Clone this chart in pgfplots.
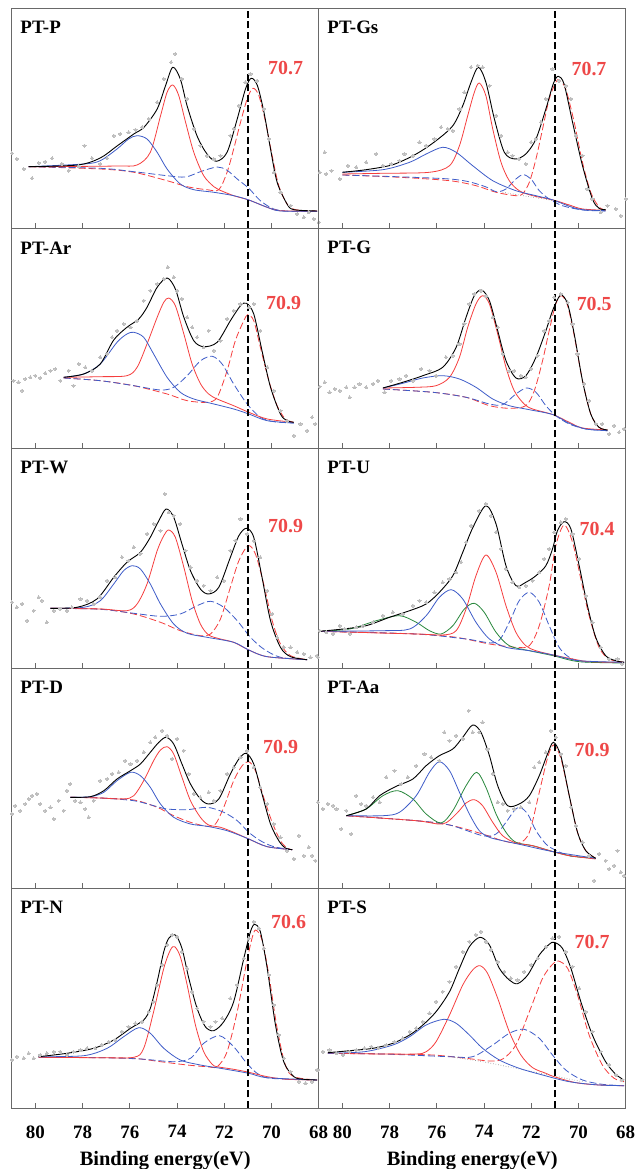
\documentclass[border=0pt]{standalone}
\usepackage{fontspec}
\setmainfont{Liberation Serif}
\usepackage{pgfplots}
\pgfplotsset{compat=1.18}
\definecolor{cred}{RGB}{245,62,62}
\definecolor{cblue}{RGB}{62,92,200}
\definecolor{cgreen}{RGB}{40,135,60}
\definecolor{cdot}{RGB}{190,190,190}
\definecolor{clbl}{RGB}{238,72,72}
\definecolor{cframe}{RGB}{105,105,105}
\pgfplotsset{
 pnl/.style={scale only axis, width=307bp, height=220bp, xmin=68, xmax=81, ymin=0, ymax=220,
   x dir=reverse, xtick={68,70,...,80}, xticklabels={}, ytick=\empty, xtick pos=left,
   tick align=inside, major tick length=5bp, axis line style={cframe, line width=0.9bp},
   every tick/.style={cframe, line width=0.9bp}, clip=false, anchor=south west},
 bottomrow/.style={xticklabels={68,70,72,74,76,78,80},
   xticklabel style={font=\fontsize{19}{20}\selectfont\bfseries, yshift=-4bp},
   xticklabel shift=10bp,
   xlabel={Binding energy(eV)},
   xlabel style={font=\fontsize{20.5}{22}\selectfont\bfseries, at={(axis description cs:0.5,0)}, anchor=base, yshift=-57bp}},
 env/.style={black, line width=0.9bp, smooth, no markers},
 rs/.style={cred, line width=0.8bp, smooth, no markers},
 rd/.style={cred, line width=0.8bp, smooth, no markers, dash pattern=on 7bp off 3bp},
 bs/.style={cblue, line width=0.8bp, smooth, no markers},
 bd/.style={cblue, line width=0.8bp, smooth, no markers, dash pattern=on 7bp off 3bp},
 gs/.style={cgreen, line width=0.8bp, smooth, no markers},
 bg/.style={gray, line width=0.6bp, dotted, smooth, no markers},
 dots/.style={only marks, color=cdot, mark=*, mark size=1.6bp, mark options={fill=cdot, draw=cdot, line width=0pt}},
}
\newcommand{\refline}{\draw[black, line width=2.5bp, dash pattern=on 7bp off 3.5bp] (axis cs:71,0) -- (axis cs:71,220);}
\newcommand{\pname}[1]{\node[anchor=west, inner sep=0pt, font=\fontsize{19}{21}\selectfont\bfseries] at (rel axis cs:0.028,0.91) {#1};}
\newcommand{\pval}[3]{\node[anchor=west, inner sep=0pt, text=clbl, font=\fontsize{20}{22}\selectfont\bfseries] at (axis cs:#1,#2) {#3};}
\begin{document}
\begin{tikzpicture}
\useasboundingbox (0,0) rectangle (635bp,1169bp);
% ---------------- PT-P
\begin{axis}[pnl, at={(11.7bp,941bp)}]
\addplot[dots] coordinates {(80.99,74.7)(80.78,69)(80.49,59)(80.14,49.7)(79.86,65)(79.58,66.3)(79.29,69.7)(78.87,64)(78.59,57.3)(78.16,61.7)(77.92,82.3)(77.6,69.7)(77.25,64)(76.96,69.7)(76.68,92.3)(76.4,94)(76.05,95.7)(75.76,98.3)(75.48,100.7)(75.2,109)(74.84,125.7)(74.56,149)(74.25,165.7)(74.07,174)(73.79,149)(73.57,129)(73.29,99)(73.01,82.3)(72.73,72.3)(72.44,69)(72.16,72.3)(71.74,92.3)(71.6,99)(71.38,122.3)(71.1,145.7)(70.89,154)(70.61,147.3)(70.32,119)(70.11,89)(69.9,55.7)(69.62,35.7)(69.19,22.3)(68.91,14)(68.63,10.7)(68.42,15.7)(68.21,9)(68.0,5.7)};
\addplot[rd] coordinates {(80.28,61.3)(77.25,59)(75.83,55.7)(74.42,47.3)(73.57,41.3)(72.73,38.3)(72.23,38.3)(71.88,55.7)(71.6,79)(71.31,105.7)(71.03,129)(70.79,139.7)(70.54,132.7)(70.25,106)(69.97,72.3)(69.69,42.3)(69.34,24)(68.98,18.3)(68.07,17)};
\addplot[bd] coordinates {(80.28,61.3)(77.25,59.7)(75.83,56.3)(74.42,52.3)(73.64,51)(73.01,56.3)(72.3,61)(71.88,57.7)(71.45,49)(70.96,39.7)(70.47,27.3)(69.9,19)(69.2,16.7)(68.07,16.7)};
\addplot[rs] coordinates {(80.28,61.3)(78.5,61.5)(76.5,62)(75.69,63)(75.13,75.7)(74.70,112)(74.42,135.7)(74.18,143)(73.93,132.7)(73.64,106)(73.29,75.7)(72.87,52.3)(72.44,41.3)(72.23,38.3)(71.6,32.3)(70.96,28)(70.18,20.7)(69.62,17.3)(68.07,16.7)};
\addplot[bs] coordinates {(80.28,61.3)(77.95,64)(77.25,67.3)(76.54,79)(76.05,89)(75.69,92.3)(75.27,89)(74.84,75.7)(74.42,59)(73.86,44)(73.29,38.3)(72.44,35.7)(71.6,32.3)(70.96,28)(70.18,20.7)(69.62,17)(68.07,16.7)};
\addplot[env] coordinates {(80.28,61.3)(78.2,63)(77.25,70)(76.54,82)(75.83,94)(75.4,100.7)(74.84,119)(74.49,142)(74.18,160.7)(73.86,149)(73.57,122)(73.15,92)(72.73,74)(72.33,66.7)(71.88,75.7)(71.45,109)(71.1,139)(70.86,149.7)(70.6,142.7)(70.32,116)(70.04,79)(69.76,45.7)(69.34,24)(69.05,18.3)(68.07,17)};
\refline \pname{PT-P} \pval{70.15}{160}{70.7}
\end{axis}
% ---------------- PT-Gs
\begin{axis}[pnl, at={(318.7bp,941bp)}]
\addplot[dots] coordinates {(80.96,55.7)(80.68,54)(80.46,57.3)(80.75,75.7)(80.11,49)(79.76,62.3)(79.41,60.7)(78.99,65.7)(78.56,74)(78.28,62.3)(77.93,64)(77.58,67.3)(77.37,74)(77.01,72.3)(76.73,85.7)(76.45,82.3)(76.1,89)(75.82,100.7)(75.54,99)(75.32,97.3)(75.04,119)(74.83,135.7)(74.55,160.7)(74.27,162.3)(74.06,160.7)(73.77,142.3)(73.49,112.3)(73.28,92.3)(73.0,75.7)(72.79,72.3)(72.51,69)(72.23,64)(72.01,85.7)(71.8,89)(71.59,105.7)(71.38,129)(71.1,159)(70.82,147.3)(70.54,142.3)(70.32,129)(70.11,92.3)(69.83,72.3)(69.62,39)(69.41,29)(69.06,15.7)(68.77,22.3)(68.42,19)(68.21,12.3)(68.0,29)};
\addplot[bg] coordinates {(73.21,35.7)(71.94,30.7)(71.07,27.3)(69.83,19)(68.85,17)};
\addplot[rd] coordinates {(80.0,53)(77.58,50.7)(75.46,47.3)(74.34,42.3)(73.49,35.7)(72.65,32.3)(72.37,34)(72.08,45.7)(71.8,69)(71.52,99)(71.24,129)(70.96,145.7)(70.82,148)(70.54,139)(70.18,105.7)(69.83,65.7)(69.48,35.7)(69.13,21)(68.85,18)};
\addplot[bd] coordinates {(80.0,53)(75.46,49)(74.06,42.3)(73.49,36.3)(73.07,39)(72.65,49)(72.34,53.3)(72.01,49)(71.66,37.3)(71.24,29)(70.68,22.3)(69.83,18)(68.85,17)};
\addplot[rs] coordinates {(80.0,54)(78.28,54.7)(76.31,55.7)(75.46,62.3)(75.04,82.3)(74.69,112.3)(74.41,135.7)(74.2,145)(73.92,132.3)(73.63,99)(73.28,65.7)(72.93,47.3)(72.51,37.3)(71.94,32.3)(71.07,28)(70.39,23)(69.83,19)(68.85,17.7)};
\addplot[bs] coordinates {(80.0,55.7)(78.28,58.3)(77.15,65.7)(76.45,74)(75.75,80.7)(75.18,75.7)(74.48,62.3)(73.63,47.3)(72.65,37.3)(71.8,32.3)(71.07,28)(70.39,21.7)(69.83,18.3)(68.85,17.3)};
\addplot[env] coordinates {(80.0,55.7)(78.99,58.3)(77.86,63.3)(76.87,74)(76.03,87.3)(75.32,102.3)(74.9,122.3)(74.55,145.7)(74.24,160.7)(73.92,145.7)(73.56,109)(73.14,75.7)(72.68,69)(72.23,74)(71.8,89)(71.38,119)(71.07,144)(70.86,151.7)(70.61,144)(70.25,105.7)(69.83,62.3)(69.41,29)(69.13,19.7)(68.85,18.3)};
\refline \pname{PT-Gs} \pval{70.3}{159.3}{70.7}
\end{axis}
% ---------------- PT-Ar
\begin{axis}[pnl, at={(11.7bp,721bp)}]
\addplot[dots] coordinates {(80.92,67.3)(80.71,65.7)(80.56,57.3)(80.42,69)(80.21,70.7)(80,72.3)(79.79,70)(79.58,74.7)(79.36,77.3)(79.15,79)(78.94,67.3)(78.59,77.3)(78.38,62.3)(78.16,84)(77.88,80.7)(77.6,77.3)(77.25,90.7)(76.96,94)(76.75,110.7)(76.54,117.3)(76.26,124)(75.97,120.7)(75.69,127.3)(75.41,147.3)(75.13,157.3)(74.84,164)(74.56,169)(74.39,180.7)(74.14,170.7)(74,157.3)(73.79,149)(73.57,130.7)(73.36,120.7)(73.15,110.7)(72.87,100.7)(72.66,117.3)(72.44,97.3)(72.16,107.3)(71.88,129)(71.6,137.3)(71.31,144)(70.96,140.7)(70.75,144)(70.47,117.3)(70.18,80.7)(69.9,57.3)(69.62,37.3)(69.34,27.3)(69.05,12.3)(68.77,24)(68.49,17.3)(68.28,30.7)(68.14,24)};
\addplot[rd] coordinates {(78.8,70)(77.25,67.3)(75.83,62.3)(74.42,54)(73.57,47.3)(72.73,45.7)(72.3,50.7)(71.88,77.3)(71.53,107.3)(71.17,127.3)(71.0,133.3)(70.75,127.3)(70.47,100.7)(70.11,67.3)(69.76,42.3)(69.41,29)(69.05,25.7)};
\addplot[bd] coordinates {(78.8,70)(77.25,67.3)(75.83,62.3)(74.7,58)(74.14,60.7)(73.57,72.3)(73.0,87.3)(72.51,91.7)(72.09,84)(71.6,64)(71.03,44)(70.47,30.7)(69.9,26.3)(69.05,25)};
\addplot[rs] coordinates {(78.8,70.7)(77.25,71.3)(76.12,72.3)(75.69,80.7)(75.27,104)(74.84,130.7)(74.56,145.7)(74.35,150)(74.07,142.3)(73.71,114)(73.36,84)(73.0,64)(72.66,54)(72.3,49)(71.6,42.3)(70.96,35.7)(70.18,29)(69.05,25.7)};
\addplot[bs] coordinates {(78.8,70.7)(77.95,74)(77.25,84)(76.54,105.7)(76.12,114)(75.83,115.7)(75.41,110.7)(74.99,94)(74.42,70.7)(73.86,55.7)(73.29,49)(72.44,44)(71.6,39)(70.96,34)(70.18,27.3)(69.05,25)};
\addplot[env] coordinates {(78.8,70.7)(77.95,74)(77.25,84)(76.68,108)(76.12,120.7)(75.62,129)(75.27,140.7)(74.84,160.7)(74.42,170)(74.07,159)(73.71,130.7)(73.29,107.3)(72.87,101.3)(72.3,105.7)(71.74,127.3)(71.31,142.3)(71.06,144.7)(70.75,134)(70.4,97.3)(70.04,60.7)(69.62,34)(69.34,27.3)(69.05,25.7)};
\refline \pname{PT-Ar} \pval{70.23}{145}{70.9}
\end{axis}
% ---------------- PT-G
\begin{axis}[pnl, at={(318.7bp,721bp)}]
\addplot[dots] coordinates {(80.96,61.3)(80.75,65.7)(80.54,55.7)(80.32,59)(80.11,57.3)(79.83,60.7)(79.69,50.7)(79.48,60.7)(79.27,64)(78.99,60.7)(78.7,64)(78.49,67.3)(78.21,55.7)(77.93,67.3)(77.58,69)(77.3,72.3)(77.01,67.3)(76.66,79)(76.31,77.3)(76.03,72.3)(75.61,90.7)(75.32,92.3)(75.04,104)(74.83,124)(74.62,144)(74.41,154)(74.13,157.3)(73.92,152.3)(73.63,130.7)(73.42,120.7)(73.21,94)(72.93,77.3)(72.72,77.3)(72.44,72.3)(72.23,70.7)(72.01,79)(71.73,92.3)(71.45,117.3)(71.24,127.3)(71.03,150.7)(70.75,154)(70.46,145.7)(70.25,124)(70.04,94)(69.76,64)(69.55,47.3)(69.27,24)(68.99,24)(68.70,14)(68.49,22.3)(68.28,15.7)(68.07,19)};
\addplot[rd] coordinates {(78.28,59)(76.17,55.7)(74.76,50.7)(73.77,42.3)(72.93,39.7)(72.23,42.3)(71.87,57.3)(71.52,87.3)(71.24,117.3)(70.96,144)(70.72,152.3)(70.46,142.3)(70.18,112.3)(69.83,67.3)(69.48,34)(69.13,20.7)(68.77,18)};
\addplot[bd] coordinates {(78.28,59)(76.17,55.7)(74.76,50.7)(73.77,44)(73.21,43.3)(72.65,54)(72.2,60)(71.8,55.7)(71.38,42.3)(70.96,32.3)(70.39,24)(69.69,19)(68.77,17.3)};
\addplot[rs] coordinates {(78.28,60)(76.87,60.7)(76.03,62.3)(75.46,70.7)(75.04,90.7)(74.69,120.7)(74.34,144)(74.06,152.3)(73.77,144)(73.42,114)(73.07,80.7)(72.72,57.3)(72.3,44)(71.94,39)(71.07,33.3)(70.39,25.7)(69.83,20)(68.77,18)};
\addplot[bs] coordinates {(78.28,60)(77.44,64.7)(76.59,70)(75.75,72.3)(75.04,69)(74.34,60.7)(73.63,49)(72.93,42.3)(72.08,38.3)(71.07,33.3)(70.39,24.7)(69.69,19)(68.77,17.3)};
\addplot[env] coordinates {(78.28,60)(77.44,65.7)(76.59,72.3)(75.75,80.7)(75.18,100.7)(74.76,130.7)(74.41,152.3)(74.1,158)(73.77,147.3)(73.42,117.3)(73.07,87.3)(72.65,70)(72.23,72.3)(71.8,90.7)(71.38,117.3)(71.07,139)(70.75,153)(70.46,144)(70.18,114)(69.83,67.3)(69.48,34)(69.13,20.7)(68.77,18)};
\refline \pname{PT-G} \pval{70.08}{144}{70.5}
\end{axis}
% ---------------- PT-W
\begin{axis}[pnl, at={(11.7bp,501bp)}]
\addplot[dots] coordinates {(80.99,65.7)(80.78,60.7)(80.56,64)(80.35,47.3)(80.07,57.3)(79.86,70.7)(79.72,67.3)(79.51,45.7)(79.22,57.3)(78.94,59)(78.66,57.3)(78.45,60.7)(78.09,69)(77.81,67.3)(77.53,64)(77.25,70.7)(76.96,87.3)(76.61,90.7)(76.33,110.7)(76.05,107.3)(75.83,120.7)(75.55,114)(75.27,134)(74.99,144)(74.7,137.3)(74.52,174)(74.35,155.7)(74.14,152.3)(73.86,144)(73.64,117.3)(73.43,100.7)(73.15,87.3)(72.87,82.3)(72.58,77.3)(72.3,90.7)(72.02,87.3)(71.74,117.3)(71.53,127.3)(71.31,149)(71.03,134)(70.75,127.3)(70.47,110.7)(70.18,77.3)(69.97,54)(69.76,30.7)(69.48,20.7)(69.19,20.7)(68.91,15.7)(68.63,14)(68.35,10.7)(68.07,12.3)};
\addplot[rd] coordinates {(79.36,59.7)(77.25,59)(75.83,54)(74.7,45.7)(73.86,37.3)(73.01,32.3)(72.58,34)(72.16,49)(71.74,80.7)(71.38,107.3)(70.99,122.3)(70.68,114)(70.33,84)(69.97,47.3)(69.62,24)(69.19,12.3)(68.49,8.3)};
\addplot[bd] coordinates {(79.36,59.7)(77.25,58.7)(75.83,54.7)(74.7,51.7)(73.86,54)(73.15,62.3)(72.58,66.7)(72.02,60.7)(71.45,47.3)(70.89,30.7)(70.33,19)(69.62,10.7)(68.49,8.3)};
\addplot[rs] coordinates {(79.36,59.7)(77.25,59)(76.12,57.3)(75.69,64)(75.27,84)(74.84,117.3)(74.56,132.3)(74.35,138)(74.07,130.7)(73.71,100.7)(73.36,67.3)(73.01,44)(72.66,33)(72.16,29)(71.6,25.7)(70.96,18)(70.18,11.3)(68.49,8.3)};
\addplot[bs] coordinates {(79.36,59.7)(77.95,60.7)(77.25,67.3)(76.68,84)(76.26,97.3)(75.9,102.3)(75.55,99)(75.13,84)(74.7,64)(74.14,44)(73.57,34.7)(72.73,30.7)(71.6,25.7)(70.96,18)(70.18,11.3)(68.49,8.3)};
\addplot[env] coordinates {(79.36,59.7)(78.23,60.7)(77.39,69)(76.68,90.7)(76.12,105.7)(75.55,115.7)(75.13,130.7)(74.77,147.3)(74.46,159)(74.14,150.7)(73.79,124)(73.43,97.3)(73.01,79)(72.66,74)(72.23,80.7)(71.74,110.7)(71.38,132.3)(71.06,139.7)(70.75,130.7)(70.4,90.7)(70.04,47.3)(69.62,20.7)(69.19,11.3)(68.49,8.3)};
\refline \pname{PT-W} \pval{70.15}{141.5}{70.9}
\end{axis}
% ---------------- PT-U
\begin{axis}[pnl, at={(318.7bp,501bp)}]
\addplot[dots] coordinates {(81.03,10.7)(80.96,37.3)(80.68,35.7)(80.39,34)(80.11,42.3)(79.9,39)(79.69,34)(79.41,40.7)(79.13,42.3)(78.7,45.7)(78.28,52.3)(77.86,55.7)(77.44,54)(77.01,62.3)(76.73,67.3)(76.45,65.7)(76.1,75.7)(75.75,85.7)(75.46,89)(75.18,95.7)(74.97,105.7)(74.76,125.7)(74.55,142.3)(74.2,157.3)(73.92,164)(73.7,152.3)(73.49,135.7)(73.28,119)(73.07,99)(72.79,85.7)(72.51,80.7)(72.23,82.3)(71.94,87.3)(71.66,95.7)(71.45,109)(71.24,119)(71.03,135.7)(70.75,145.7)(70.54,149)(70.25,134)(69.97,109)(69.69,72.3)(69.41,45.7)(69.06,20.7)(68.7,9)(68.35,9)(68.14,4)};
\addplot[rd] coordinates {(80.96,36.7)(76.87,34)(75.18,30.7)(73.77,24)(72.65,20.7)(72.08,22.3)(71.66,42.3)(71.24,82.3)(70.96,122.3)(70.61,143)(70.25,125.7)(69.9,89)(69.55,52.3)(69.13,20.7)(68.7,9)(68.07,5.7)};
\addplot[bd] coordinates {(80.96,36.7)(76.87,34)(74.76,29)(73.49,25.7)(72.93,45.7)(72.51,67.3)(72.08,75.7)(71.66,65.7)(71.24,42.3)(70.82,20.7)(70.39,10.7)(69.83,6.3)(68.07,5.7)};
\addplot[gs] coordinates {(80.96,36.7)(79.69,39)(78.56,47.3)(77.58,52.3)(76.87,45.7)(76.31,37.3)(75.82,34)(75.32,42.3)(74.83,59)(74.41,64.7)(73.99,55.7)(73.49,35.7)(72.93,22.3)(72.08,17.3)(71.07,12.3)(69.97,6.3)(68.07,5)};
\addplot[rs] coordinates {(80.96,36.7)(76.87,34)(75.75,33)(75.18,37.3)(74.76,59)(74.34,92.3)(73.92,113)(73.49,95.7)(73.07,62.3)(72.65,35.7)(72.23,22.3)(71.8,17.3)(71.07,13)(70.39,9.7)(69.55,6.3)(68.07,5.7)};
\addplot[bs] coordinates {(80.96,36.7)(78.28,37.3)(77.15,39)(76.45,52.3)(75.89,70.7)(75.39,78.3)(74.9,69)(74.34,45.7)(73.77,29)(73.07,20.7)(72.08,17.3)(71.07,13)(69.97,7.3)(68.07,5.7)};
\addplot[env] coordinates {(80.96,36.7)(79.97,39)(78.99,42.3)(78.0,50.7)(77.15,57.3)(76.45,64)(75.89,75.7)(75.32,92.3)(74.9,115.7)(74.48,140)(73.92,162.3)(73.49,144)(73.07,102.3)(72.65,82.3)(72.23,85.7)(71.8,92.3)(71.38,102.3)(71.1,119)(70.89,137.3)(70.61,146.3)(70.32,139)(69.97,102.3)(69.62,62.3)(69.27,30.7)(68.85,12.3)(68.42,7.3)(68.07,5.7)};
\refline \pname{PT-U} \pval{69.96}{139}{70.4}
\end{axis}
% ---------------- PT-D
\begin{axis}[pnl, at={(11.7bp,281bp)}]
\addplot[dots] coordinates {(80.99,74)(80.85,82.3)(80.64,77.3)(80.42,84)(80.28,89)(80.14,92.3)(79.93,94)(79.79,84)(79.58,77.3)(79.36,80.7)(79.22,69)(79.01,87.3)(78.8,77.3)(78.66,97.3)(78.52,104)(78.31,87.3)(78.09,85.7)(77.88,79)(77.74,70.7)(77.53,87.3)(77.25,107.3)(76.96,109)(76.75,114)(76.47,115.7)(76.19,127.3)(75.97,124)(75.69,127.3)(75.41,135.7)(75.13,145.7)(74.92,150.7)(74.63,157.3)(74.42,152.3)(74.21,129)(74,149)(73.72,137.3)(73.5,114)(73.29,94)(73.01,90.7)(72.66,95.7)(72.44,87.3)(72.16,97.3)(71.88,114)(71.6,120.7)(71.31,130.7)(71.03,137.3)(70.75,120.7)(70.47,100.7)(70.18,84)(69.9,64)(69.62,50.7)(69.34,37.3)(69.05,29)(68.84,52.3)(68.63,32.3)(68.42,40.7)(68.28,32.3)(68.14,27.3)};
\addplot[rd] coordinates {(78.52,90.7)(77.25,90)(75.83,88)(74.84,80.7)(74.14,72.3)(73.43,65.7)(72.73,61.7)(72.37,64)(72.02,80.7)(71.6,107.3)(71.24,122.3)(70.96,126.3)(70.68,117.3)(70.33,90.7)(69.97,65.7)(69.62,47.3)(69.34,40)(69.12,38.3)};
\addplot[bd] coordinates {(78.52,90.7)(77.25,90)(75.83,87.3)(74.99,82.3)(74.42,79)(73.57,78.3)(72.73,80.7)(72.02,75.7)(71.45,67.3)(70.96,55.7)(70.47,47.3)(69.9,41.3)(69.12,38.3)};
\addplot[rs] coordinates {(78.52,90.7)(77.25,90)(76.26,89)(75.83,92.3)(75.41,107.3)(74.99,127.3)(74.7,138)(74.42,141.3)(74.14,134)(73.79,110.7)(73.43,87.3)(73.01,70.7)(72.66,63)(72.16,60.7)(71.6,55.7)(70.96,49)(70.18,41.3)(69.12,38.3)};
\addplot[bs] coordinates {(78.52,90.7)(77.67,91.3)(77.1,95.7)(76.54,107.3)(75.97,115.7)(75.55,112.3)(75.13,100.7)(74.7,84)(74.14,70.7)(73.43,64)(72.73,61.7)(71.88,57.3)(70.96,49)(70.18,41.3)(69.12,38.3)};
\addplot[env] coordinates {(78.52,90.7)(77.67,91.3)(77.1,97.3)(76.54,109)(75.97,117.3)(75.55,124)(75.13,135.7)(74.77,145.7)(74.46,150.7)(74.14,144)(73.79,124)(73.43,104)(73.01,89)(72.66,84)(72.23,89)(71.74,114)(71.38,129)(71.07,134.7)(70.75,124)(70.4,94)(70.04,64)(69.69,47.3)(69.41,40)(69.12,38.3)};
\refline \pname{PT-D} \pval{70.36}{140.7}{70.9}
\end{axis}
% ---------------- PT-Aa
\begin{axis}[pnl, at={(318.7bp,281bp)}]
\addplot[dots] coordinates {(81.03,85.7)(80.82,79)(80.61,84)(80.39,82.3)(80.25,79)(80.04,59)(79.83,77.3)(79.62,54)(79.41,92.3)(79.2,84)(78.99,82.3)(78.7,90.7)(78.42,85.7)(78.14,110.7)(77.79,117.3)(77.51,104)(77.23,110.7)(76.87,122.3)(76.52,134)(76.24,130.7)(75.89,127.3)(75.68,155.7)(75.46,147.3)(75.18,152.3)(74.9,149)(74.65,177.3)(74.48,155.7)(74.2,155.7)(74.06,165.7)(73.85,139)(73.63,114)(73.42,85.7)(73.21,84)(73.0,77.3)(72.72,79)(72.44,80.7)(72.08,85.7)(71.87,120.7)(71.66,125.7)(71.38,135.7)(71.17,157.3)(70.96,150.7)(70.75,134)(70.54,122.3)(70.32,80.7)(70.11,62.3)(69.83,45.7)(69.55,32.3)(69.34,7.3)(69.13,34)(68.85,27.3)(68.7,19)(68.49,22.3)(68.35,37.3)(68.21,15.7)(68.07,12.3)};
\addplot[rd] coordinates {(79.83,72.3)(76.87,67.3)(75.46,63)(74.06,54)(73.21,47.3)(72.51,45)(72.08,55.7)(71.66,95.7)(71.31,130)(71.06,143)(70.75,130)(70.39,92.3)(70.04,55.7)(69.69,37.3)(69.27,29.7)};
\addplot[bd] coordinates {(79.83,72.3)(76.87,67.3)(75.46,63)(74.06,52.3)(73.49,54)(73.07,65.7)(72.72,77.3)(72.48,80.7)(72.15,74)(71.8,57.3)(71.38,44)(71.07,39)(70.39,32.3)(69.27,29.7)};
\addplot[gs] coordinates {(79.83,72.3)(78.99,79)(78.28,92.3)(77.65,97.3)(77.01,89)(76.45,74)(75.82,65)(75.32,77.3)(74.76,102.3)(74.31,115.7)(73.92,100.7)(73.49,74)(73.07,55.7)(72.65,45.7)(71.94,42.3)(71.07,36.3)(70.25,31.7)(69.27,29.7)};
\addplot[rs] coordinates {(79.83,72.3)(76.87,67.3)(75.75,64)(75.18,74)(74.76,85)(74.41,88.3)(74.06,82.3)(73.63,65.7)(73.21,52.3)(72.65,45)(71.94,42.3)(71.07,36.3)(70.39,32.3)(69.27,29)};
\addplot[bs] coordinates {(79.83,72.3)(78.28,72.3)(77.58,75.7)(76.87,92.3)(76.31,115.7)(75.89,126.3)(75.46,117.3)(75.04,95.7)(74.62,74)(74.2,57.3)(73.77,50.7)(73.21,47.3)(72.37,43)(71.07,36.3)(69.27,29.7)};
\addplot[env] coordinates {(79.83,72.3)(78.99,79)(78.42,92.3)(77.72,101.7)(77.01,109)(76.45,122.3)(75.89,132.3)(75.32,139)(74.9,150.7)(74.48,163)(74.13,155.7)(73.77,132.3)(73.42,102.3)(73.0,82.3)(72.51,84)(72.08,92.3)(71.66,112.3)(71.31,134)(71.06,145.7)(70.75,132.3)(70.39,92.3)(70.04,55.7)(69.69,37.3)(69.27,29.7)};
\refline \pname{PT-Aa} \pval{70.17}{138}{70.9}
\end{axis}
% ---------------- PT-N
\begin{axis}[pnl, bottomrow, at={(11.7bp,61bp)}]
\addplot[dots] coordinates {(80.99,48)(80.78,51.3)(80.49,49.7)(80.28,54.7)(80.07,49.7)(79.79,53)(79.51,54.7)(79.22,56.3)(78.94,56.3)(78.66,53)(78.38,56.3)(78.09,58)(77.81,59.7)(77.46,59.7)(77.18,63)(76.89,66.3)(76.61,68)(76.33,76.3)(76.05,81.3)(75.76,84.7)(75.48,86.3)(75.2,96.3)(74.99,106.3)(74.84,123)(74.63,143)(74.42,163)(74.21,173)(74.0,171.3)(73.79,156.3)(73.57,139.7)(73.36,116.3)(73.15,99.7)(72.87,86.3)(72.58,81.3)(72.37,86.3)(72.09,89.7)(71.74,109.7)(71.45,123)(71.17,149.7)(70.96,169.7)(70.75,186.3)(70.54,179.7)(70.33,159.7)(70.11,133)(69.9,103)(69.69,73)(69.48,49.7)(69.19,36.3)(68.84,26.3)(68.56,24.7)(68.28,26.3)(68.07,38)};
\addplot[rd] coordinates {(79.86,50.7)(77.25,50.3)(75.83,49.7)(74.7,46.3)(73.57,43)(72.73,41.3)(72.3,41.3)(71.88,56.3)(71.45,96.3)(71.1,139.7)(70.86,166.3)(70.68,178)(70.4,168)(70.11,133)(69.76,79.7)(69.41,43)(69.05,31.3)(68.07,28)};
\addplot[bd] coordinates {(79.86,50.7)(77.25,50.3)(75.55,49)(74.14,46.3)(73.43,49.7)(72.87,64.7)(72.2,72.3)(71.6,61.3)(71.1,46.3)(70.61,34.7)(70.04,29.7)(68.07,28)};
\addplot[rs] coordinates {(79.86,50.7)(77.25,50.3)(75.83,50.7)(75.41,59.7)(74.99,96.3)(74.56,139.7)(74.28,158)(74.1,161.3)(73.86,151.3)(73.57,123)(73.22,83)(72.87,56.3)(72.51,43.7)(72.3,41.3)(71.6,38.7)(70.96,35.7)(70.18,31.3)(69.34,28.7)(68.07,28)};
\addplot[bs] coordinates {(79.86,51.3)(77.95,52.3)(76.96,59.7)(76.26,71.3)(75.62,80.3)(75.13,74.7)(74.56,59.7)(73.86,48)(73.01,43)(72.16,39.7)(70.96,34.7)(70.18,30.3)(68.07,28)};
\addplot[env] coordinates {(79.86,51.3)(78.66,54.7)(77.53,59.7)(76.68,68)(75.97,79.7)(75.41,88)(75.13,99.7)(74.84,126.3)(74.56,156.3)(74.35,169.7)(74.07,173)(73.79,159.7)(73.5,129.7)(73.15,99.7)(72.8,81.3)(72.44,77.3)(72.02,86.3)(71.6,106.3)(71.17,149.7)(70.89,176.3)(70.71,183.7)(70.47,176.3)(70.18,139.7)(69.83,83)(69.48,46.3)(69.05,31.3)(68.63,28.7)(68.07,28)};
\refline \pname{PT-N} \pval{70.02}{185.5}{70.6}
\end{axis}
% ---------------- PT-S
\begin{axis}[pnl, bottomrow, at={(318.7bp,61bp)}]
\addplot[dots] coordinates {(81.03,38)(80.82,56.3)(80.54,58)(80.25,54.7)(79.97,53)(79.69,56.3)(79.41,58)(79.06,59.7)(78.77,61.3)(78.49,59.7)(78.14,63)(77.79,66.3)(77.44,69.7)(77.15,76.3)(76.87,79.7)(76.59,86.3)(76.31,94.7)(76.03,106.3)(75.75,116.3)(75.46,126.3)(75.18,141.3)(74.9,156.3)(74.62,166.3)(74.34,173)(74.13,176.3)(73.92,166.3)(73.7,158)(73.42,146.3)(73.14,136.3)(72.86,129.7)(72.58,128)(72.3,136.3)(72.01,143)(71.73,149.7)(71.38,161.3)(71.1,169.7)(70.82,171.3)(70.54,156.3)(70.25,141.3)(69.97,119.7)(69.69,96.3)(69.41,76.3)(69.06,56.3)(68.7,43)(68.42,33)(68.14,28)};
\addplot[bg] coordinates {(75.46,51.3)(74.06,46.3)(72.65,39.7)(71.24,33)(69.83,26.3)};
\addplot[rd] coordinates {(80.61,54.7)(78.28,54)(76.17,53)(74.76,49.7)(73.77,47)(73.21,49)(72.65,63)(72.08,96.3)(71.52,129.7)(71.1,143.7)(70.85,147)(70.46,139.7)(70.04,113)(69.55,73)(68.99,43)(68.49,29.7)(68.07,26.3)};
\addplot[bd] coordinates {(80.61,54.7)(78.28,54)(75.46,51.3)(74.48,51.3)(73.63,63)(72.93,74.7)(72.3,78.7)(71.66,69.7)(71.1,53)(70.54,38)(69.83,28)(68.99,23.7)(68.07,22.3)};
\addplot[rs] coordinates {(80.61,54.7)(78.28,54)(76.87,54)(76.45,56.3)(76.03,66.3)(75.46,93)(74.9,123)(74.48,138)(74.17,142.3)(73.85,134.7)(73.42,109.7)(72.93,76.3)(72.44,53)(71.94,40.3)(71.38,34.7)(71.03,31.3)(70.11,25.3)(69.13,23)(68.07,22.3)};
\addplot[bs] coordinates {(80.61,54.7)(79.06,56.3)(77.86,63)(77.15,71.3)(76.45,83)(75.7,88.7)(75.18,84.7)(74.62,73)(74.06,59.7)(73.35,48)(72.51,39.7)(71.52,33)(70.39,26.3)(69.13,23)(68.07,22.3)};
\addplot[env] coordinates {(80.61,55.3)(79.69,57.3)(78.7,59.7)(77.86,64.7)(77.15,73)(76.59,83)(76.03,96.3)(75.46,116.3)(75.04,139.7)(74.62,161.3)(74.17,170.7)(73.77,163)(73.35,139.7)(72.93,128)(72.58,124.3)(72.15,133)(71.66,153)(71.24,163.7)(71.03,165.7)(70.68,159.7)(70.32,139.7)(69.9,106.3)(69.41,73)(68.85,46.3)(68.42,33.7)(68.07,28)};
\refline \pname{PT-S} \pval{70.17}{166.3}{70.7}
\end{axis}
\end{tikzpicture}
\end{document}
